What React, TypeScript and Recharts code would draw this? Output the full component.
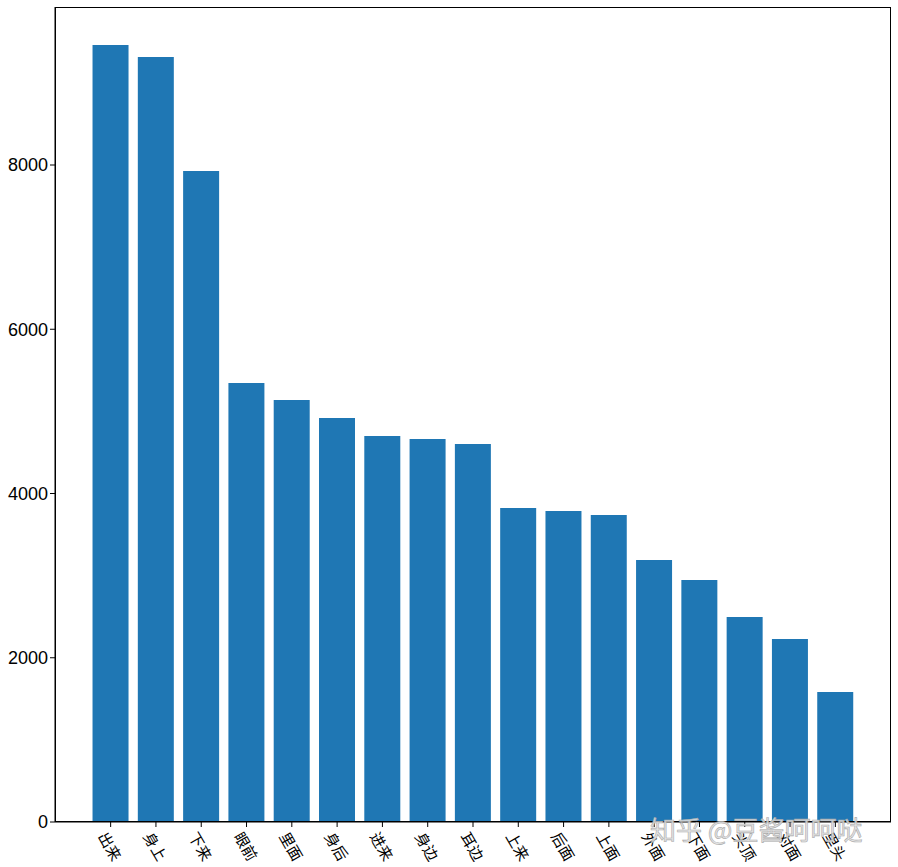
import { BarChart, Bar, XAxis, YAxis } from "recharts";

const words = ["出来", "身上", "下来", "眼前", "里面", "身后", "进来", "身边", "耳边", "上来", "后面", "上面", "外面", "下面", "头顶", "对面", "里头"];
const counts = [9460, 9315, 7927, 5346, 5139, 4920, 4700, 4664, 4603, 3824, 3787, 3738, 3190, 2947, 2496, 2228, 1583];
const yTicks = [0, 2000, 4000, 6000, 8000];

const data = words.map((w, i) => ({ word: w, count: counts[i] }));

const WordTick = (props: any) => {
  const { x, y, payload } = props;
  return (
    <g transform={`translate(${x},${y + 17})`}>
      <text
        transform="rotate(60)"
        textAnchor="middle"
        dominantBaseline="central"
        fontSize={15}
        fill="#000"
        fontFamily="'Noto Sans CJK SC', sans-serif"
      >
        {payload.value}
      </text>
    </g>
  );
};

export default function App() {
  return (
    <div style={{ position: "absolute", left: 0, top: 0, width: 898, height: 867, background: "#fff" }}>
      <BarChart
        width={898}
        height={867}
        data={data}
        margin={{ top: 7, right: 7, left: 0, bottom: 0 }}
        barCategoryGap="10%"
      >
        <XAxis
          dataKey="word"
          interval={0}
          padding={{ left: 33, right: 33 }}
          height={45}
          tick={<WordTick />}
          tickSize={5}
          axisLine={{ stroke: "#000" }}
          tickLine={{ stroke: "#000" }}
        />
        <YAxis
          domain={[0, 9924]}
          ticks={yTicks}
          width={55}
          tickSize={5}
          allowDataOverflow
          axisLine={{ stroke: "#000" }}
          tickLine={{ stroke: "#000" }}
          tick={{ fill: "#000", fontSize: 18, fontFamily: "'Liberation Sans', Arial, sans-serif" }}
        />
        <Bar dataKey="count" fill="#1f77b4" isAnimationActive={false} />
      </BarChart>
      <div
        style={{
          position: "absolute",
          left: 55,
          top: 7,
          width: 836,
          height: 815,
          boxSizing: "border-box",
          border: "1px solid #000",
          pointerEvents: "none",
        }}
      />
      <div
        style={{
          position: "absolute",
          left: 650,
          top: 810,
          fontSize: 26,
          color: "rgba(225,225,225,0.9)",
          fontFamily: "'Noto Sans CJK SC', sans-serif",
          WebkitTextStroke: "0.6px #aaaaaa",
          whiteSpace: "nowrap",
        }}
      >
        知乎 @豆酱呵呵哒
      </div>
    </div>
  );
}
